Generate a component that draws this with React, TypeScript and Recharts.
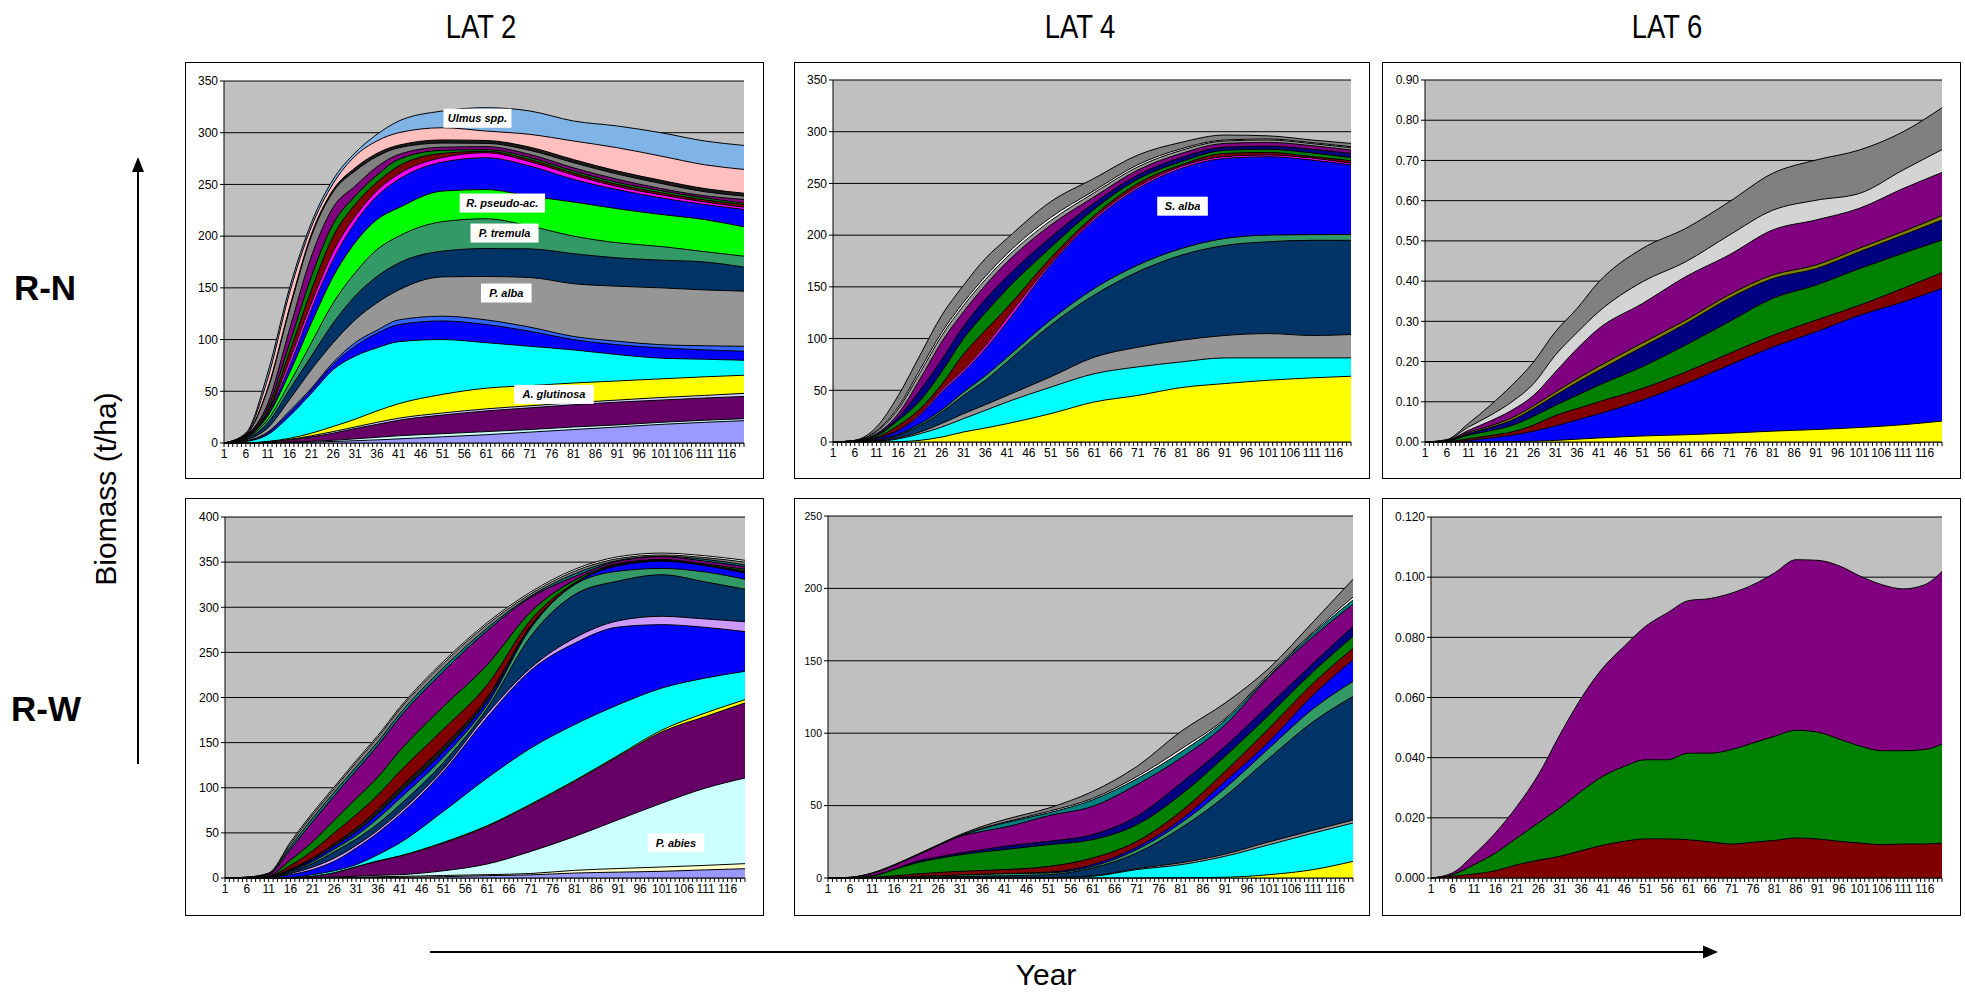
import React from "react";
import { AreaChart, Area, XAxis, YAxis, CartesianGrid, ReferenceDot } from "recharts";

const FONT = '"Liberation Sans", Arial, sans-serif';

// Years
const YEARS_17 = [1, 6, 11, 16, 21, 26, 31, 36, 41, 51, 61, 71, 81, 91, 101, 111, 120];
const YEARS_25 = [1, 6, 11, 16, 21, 26, 31, 36, 41, 46, 51, 56, 61, 66, 71, 76, 81, 86, 91, 96, 101, 106, 111, 116, 120];
const TICK_YEARS = Array.from({ length: 120 }, (_, i) => i + 1);
const X_TICK_LABELS = [1, 6, 11, 16, 21, 26, 31, 36, 41, 46, 51, 56, 61, 66, 71, 76, 81, 86, 91, 96, 101, 106, 111, 116];

// Y ticks
const Y_350 = [0, 50, 100, 150, 200, 250, 300, 350];
const Y_400 = [0, 50, 100, 150, 200, 250, 300, 350, 400];
const Y_250 = [0, 50, 100, 150, 200, 250];
const Y_090 = [0, 0.1, 0.2, 0.3, 0.4, 0.5, 0.6, 0.7, 0.8, 0.9];
const Y_012 = [0, 0.02, 0.04, 0.06, 0.08, 0.1, 0.12];

// R-N, LAT 2 (top edge of each band, t/ha)
const rn2LightBlue = [0, 9.7, 67.7, 150, 213, 255, 280.6, 298.4, 311.3, 321, 324.2, 321, 311.3, 306.5, 300, 292, 287.7];
const rn2Pink = [0, 8.8, 62, 145, 209, 251, 277.4, 292, 300, 304.8, 301.6, 298.4, 292, 285.5, 277.4, 269, 264.5];
const rn2Black = [0, 8.3, 53, 131, 202, 245, 266, 280, 288, 293, 292.5, 286, 274, 263, 254, 246, 241.5];
const rn2Gray = [0, 8, 51.6, 129, 200, 243, 263, 277, 285.5, 290, 289.7, 283, 271, 260, 251, 243, 238.7];
const rn2Purple = [0, 7.5, 38, 110, 180.6, 228, 248.4, 267, 279, 286, 286.5, 279, 266, 255, 246, 239, 235.5];
const rn2Green = [0, 7, 34, 96, 161, 212, 238.7, 259, 274.3, 283, 283.6, 276, 263, 252, 244, 237, 232];
const rn2DarkRed = [0, 6.5, 31, 88, 148, 200, 230.6, 252, 267.8, 280, 282, 274, 261, 250, 242, 235, 230.6];
const rn2Magenta = [0, 6, 29, 80, 135.5, 185, 219, 244, 260, 276, 280.6, 272, 259, 248, 240, 233, 228];
const rn2Blue = [0, 5.5, 27.4, 74, 129, 177.4, 213, 238.7, 254.9, 271.6, 275.8, 267.8, 254.9, 245, 237, 230.6, 225.8];
const rn2Robinia = [0, 5, 25.8, 67.7, 116, 161, 193.6, 216, 227.4, 243.6, 245, 238.7, 233, 226.5, 221, 216, 209];
const rn2Tremula = [0, 4.8, 22.6, 58, 97, 135.5, 164.5, 187, 200, 214, 216.8, 209.7, 200, 193.6, 190, 185, 180.6];
const rn2Navy = [0, 3.9, 19.4, 51.6, 84, 116, 142, 161, 174, 185.5, 188, 187.7, 183, 179, 176.8, 175, 170];
const rn2Alba = [0, 3, 14.5, 42, 71, 97, 119, 135.5, 148, 160.6, 161, 160, 154, 151.6, 150, 148, 146.8];
const rn2Cornflower = [0, 2, 10.5, 31, 53, 78, 97, 109, 119, 122.6, 119, 112, 103, 98.4, 95, 94, 93.5];
const rn2Blue2 = [0, 1.8, 9.7, 29, 51.6, 76, 93.5, 106, 114.5, 118, 114.5, 108, 100, 95, 92, 90, 88.7];
const rn2Cyan = [0, 1.5, 8, 26, 48, 71, 84, 92, 98, 100, 97, 93.5, 90, 85.5, 82, 81, 80];
const rn2Glutinosa = [0, 0, 1.5, 4.5, 9.5, 16, 23, 31, 38, 47, 53, 55.5, 58, 60, 62, 64, 65.5];
const rn2Lilac = [0, 0, 1.2, 3.5, 7, 11, 15.5, 20, 24, 29, 33, 36, 39, 41.5, 44, 46, 48];
const rn2Plum = [0, 0, 1, 3, 6, 9.5, 14, 18, 22, 27, 31, 34, 37, 39.5, 41.5, 43.5, 45];
const rn2PaleCyan = [0, 0, 0.3, 0.8, 1.6, 2.6, 4, 5.5, 7, 9, 11, 13, 15.5, 17.5, 20, 22, 23.5];
const rn2Periwinkle = [0, 0, 0, 0.3, 0.8, 1.5, 2.2, 3, 4, 6, 8, 10.5, 13, 15.5, 18, 20, 21.6];

// R-N, LAT 4
const rn4Gray = [0, 1.6, 14.5, 45, 84, 122.6, 151.6, 177.4, 196.8, 232.3, 254.9, 277.4, 289.7, 296.8, 296, 292, 288.7];
const rn4White = [0, 1.5, 11, 34, 70, 106, 135, 160, 182, 217, 243, 268, 283.5, 292, 293, 289.5, 285.5];
const rn4LightGray = [0, 1.5, 10, 32, 67, 103, 132, 157, 179, 214, 241, 266, 282, 291, 292, 288.5, 284.5];
const rn4Purple = [0, 1.4, 8, 27.4, 61, 97, 126, 151.6, 174, 209.7, 237, 262.9, 279, 288.7, 289.7, 286.5, 282.3];
const rn4Navy2 = [0, 1.2, 7, 24, 50, 80, 112, 138, 160, 198, 231, 258, 275, 285, 286, 283, 279];
const rn4Green = [0, 1, 6, 21, 40, 68, 100, 125, 148, 188, 225, 254, 271, 282, 283, 279.5, 275];
const rn4DarkRed = [0, 0.8, 4.5, 16, 32, 56, 85, 108, 130, 178, 219, 250, 268, 279, 280, 276, 272];
const rn4Magenta = [0, 0.6, 3.6, 12, 27.5, 50.5, 70, 93, 120, 173, 216.5, 247, 266.5, 276, 277.5, 274.5, 269.5];
const rn4Salix = [0, 0.5, 3.2, 11, 25.8, 48.4, 67.7, 90, 116, 171, 214.5, 245, 264.5, 274.2, 275.8, 272.6, 267.8];
const rn4SeaGreen = [0, 0.3, 2, 7.5, 17.7, 31, 48.4, 64, 82, 118, 148.4, 171, 187, 196.8, 200, 200.5, 200.6];
const rn4Navy = [0, 0.2, 1.6, 6.5, 16, 29, 45, 59.7, 77.4, 113, 142, 164.5, 180.6, 190, 193.6, 195, 195];
const rn4MidGray = [0, 0, 0.8, 3.9, 9.7, 18, 27.4, 36, 45, 63, 82, 91.6, 98.4, 103, 104.8, 103, 103.9];
const rn4Cyan = [0, 0, 0.5, 3, 8, 14.5, 22.6, 30.6, 38.7, 53, 66, 72.6, 77.4, 81.3, 81.3, 81.3, 81.3];
const rn4Yellow = [0, 0, 0, 0.3, 1.6, 4.8, 9.7, 13.5, 17.7, 27.4, 38.7, 45, 52.6, 56.5, 59.7, 62, 63.6];

// R-N, LAT 6
const rn6Gray = [0, 0.006, 0.046, 0.091, 0.141, 0.199, 0.274, 0.332, 0.398, 0.481, 0.531, 0.597, 0.668, 0.701, 0.726, 0.771, 0.831];
const rn6Light = [0, 0.005, 0.037, 0.066, 0.1, 0.145, 0.216, 0.272, 0.324, 0.398, 0.448, 0.514, 0.576, 0.601, 0.618, 0.676, 0.727];
const rn6Purple = [0, 0.004, 0.029, 0.052, 0.079, 0.116, 0.174, 0.232, 0.282, 0.344, 0.411, 0.465, 0.527, 0.552, 0.581, 0.63, 0.67];
const rn6Olive = [0, 0.003, 0.024, 0.04, 0.06, 0.09, 0.124, 0.157, 0.188, 0.246, 0.303, 0.366, 0.415, 0.44, 0.482, 0.523, 0.563];
const rn6Navy = [0, 0.003, 0.021, 0.036, 0.054, 0.083, 0.116, 0.148, 0.178, 0.236, 0.294, 0.357, 0.406, 0.431, 0.473, 0.514, 0.552];
const rn6Green = [0, 0.002, 0.017, 0.028, 0.041, 0.064, 0.091, 0.116, 0.141, 0.187, 0.241, 0.299, 0.357, 0.39, 0.431, 0.469, 0.502];
const rn6DarkRed = [0, 0.001, 0.008, 0.016, 0.025, 0.042, 0.066, 0.083, 0.1, 0.133, 0.174, 0.22, 0.265, 0.303, 0.34, 0.382, 0.421];
const rn6Blue = [0, 0, 0.004, 0.01, 0.017, 0.027, 0.04, 0.055, 0.07, 0.104, 0.145, 0.191, 0.236, 0.274, 0.315, 0.348, 0.382];
const rn6Yellow = [0, 0, 0, 0, 0.001, 0.002, 0.004, 0.007, 0.01, 0.015, 0.018, 0.022, 0.027, 0.031, 0.036, 0.043, 0.052];

// R-W, LAT 2
const rw2White = [0, 1, 5.5, 40, 72, 101, 130, 158, 189, 240, 283, 317, 342, 356, 360, 357, 352];
const rw2Gray = [0, 0.9, 5, 38, 70, 99, 128, 156, 187, 238, 281, 315, 340, 354, 358, 355, 350];
const rw2Teal = [0, 0.8, 4.5, 35, 66, 95, 123, 151, 182, 233, 277, 312.5, 337, 352, 356.5, 353, 347];
const rw2Purple = [0, 0.7, 4, 32, 62, 91, 119, 147, 178, 229, 274, 311, 334, 351, 356, 351, 345];
const rw2Green = [0, 0.5, 2.5, 20, 40, 64, 88, 112, 141, 190, 236, 295, 330, 348.5, 353, 348, 342];
const rw2DarkRed = [0, 0.4, 2, 14, 30, 50, 70, 92, 118, 165, 214, 286, 327, 347.5, 352, 347, 340];
const rw2Black = [0, 0.3, 1.5, 10, 22, 38, 55, 76, 100, 146, 200, 280, 326, 347, 351.5, 346.5, 339];
const rw2BlueThin = [0, 0.3, 1.4, 9, 20, 35, 51, 71, 94, 140, 196, 278.5, 325.5, 346, 351, 346, 338];
const rw2SeaGreen = [0, 0.2, 1.2, 8, 18, 32, 47, 66, 88, 134, 192, 277, 325, 340, 343, 339, 331];
const rw2Navy = [0, 0.2, 1, 7, 16, 29, 43, 60, 81, 128, 188, 268, 314, 329, 336, 328, 320];
const rw2Lavender = [0, 0.1, 0.8, 5, 12, 22, 36, 53, 73, 121, 182, 233, 266, 285, 290, 287, 284];
const rw2Blue = [0, 0.1, 0.7, 3.7, 9.2, 18.5, 33, 50, 70, 118, 178, 230, 260, 278, 280.7, 277.7, 273];
const rw2Cyan = [0, 0, 0, 0.5, 3.7, 8, 14.8, 25.9, 38.8, 73.9, 110.8, 144, 170, 192, 210.5, 221.6, 229];
const rw2Yellow = [0, 0, 0, 0.3, 2, 5.8, 12.5, 19, 24.5, 39.5, 58, 82, 108, 136, 164, 183, 197.6];
const rw2Plum = [0, 0, 0, 0.2, 1.8, 5.5, 12.2, 18.5, 24, 38.8, 57.2, 81, 107, 134.8, 162, 179, 194];
const rw2Abies = [0, 0, 0, 0, 0.5, 1, 2, 3, 3.7, 8, 15.5, 29.5, 46, 64.6, 83, 99.7, 110.8];
const rw2PaleYellow = [0, 0, 0, 0, 0.3, 0.6, 1, 1.4, 1.8, 2.8, 3.7, 5, 8.5, 10.5, 12.2, 14, 15.9];
const rw2Periwinkle = [0, 0, 0, 0, 0.2, 0.4, 0.5, 0.6, 0.7, 1.5, 2.6, 3.5, 5.5, 6.5, 7.4, 9, 10.3];

// R-W, LAT 4
const rw4Gray = [0, 0.5, 3.5, 9.2, 16, 23, 30, 35.7, 40.3, 48.3, 59.8, 77, 101.2, 120.8, 145, 177, 206.3];
const rw4White = [0, 0.45, 3.3, 8.9, 15.8, 22.8, 29.5, 34.5, 38.5, 46, 55, 70, 89, 110, 141, 170, 194];
const rw4Teal = [0, 0.42, 3.2, 8.8, 15.6, 22.6, 29.2, 34, 38, 45, 54, 68.5, 87, 109, 140, 169, 192];
const rw4Purple = [0, 0.4, 3.1, 8.6, 15.3, 22.3, 28.8, 32.2, 35, 43, 49.5, 64.4, 82.8, 105.8, 139, 166.8, 189];
const rw4Navy2 = [0, 0.3, 1.6, 6, 11.5, 14.5, 17.3, 19.5, 21.9, 25.3, 30, 42.6, 65.6, 90.9, 119.6, 148.4, 173.7];
const rw4Green = [0, 0.2, 1.2, 5.8, 10.4, 13.5, 16, 18, 19.6, 23, 26.5, 36.8, 57.5, 84, 112.7, 142.6, 166.8];
const rw4DarkRed = [0, 0.1, 0.5, 1.5, 2.8, 3.8, 4.6, 5.2, 5.8, 8, 13.8, 25.3, 46, 73.6, 103.5, 134.6, 158.7];
const rw4Blue = [0, 0, 0.2, 0.5, 1, 1.5, 2, 2.5, 3, 4, 9.2, 21.2, 40.3, 66.7, 94.3, 126.5, 150.7];
const rw4SeaGreen = [0, 0, 0.2, 0.5, 1, 1.5, 2, 2.5, 3, 3.5, 8, 19.6, 38, 62, 89.7, 117, 135.7];
const rw4Navy = [0, 0, 0, 0.2, 0.5, 0.8, 1, 1.3, 1.5, 2.3, 6.9, 17.3, 34.5, 56.4, 82.8, 108, 125.4];
const rw4MidGray = [0, 0, 0, 0, 0, 0, 0, 0, 0, 0.3, 1.5, 6.5, 10.5, 16.5, 25, 33, 40];
const rw4Cyan = [0, 0, 0, 0, 0, 0, 0, 0, 0, 0.2, 1.2, 5.8, 9.2, 15, 23, 31, 38];
const rw4Yellow = [0, 0, 0, 0, 0, 0, 0, 0, 0, 0, 0, 0, 0.2, 0.5, 2.3, 5.8, 11.5];

// R-W, LAT 6 (every 5 years)
const rw6Purple = [0, 0.0017, 0.0078, 0.015, 0.0238, 0.0343, 0.0476, 0.0598, 0.0698, 0.077, 0.0837, 0.0881, 0.0922, 0.0929, 0.0947, 0.0975, 0.1014, 0.1058, 0.1056, 0.1038, 0.1003, 0.0975, 0.0961, 0.0975, 0.1019];
const rw6Green = [0, 0.0011, 0.0044, 0.0083, 0.0133, 0.0183, 0.0233, 0.0288, 0.0338, 0.0371, 0.0393, 0.0393, 0.0415, 0.0415, 0.0427, 0.0449, 0.0471, 0.0491, 0.0485, 0.0462, 0.0438, 0.0423, 0.0423, 0.0427, 0.0445];
const rw6DarkRed = [0, 0.0006, 0.0013, 0.0024, 0.0044, 0.0059, 0.0072, 0.0091, 0.0109, 0.0122, 0.013, 0.013, 0.0127, 0.012, 0.0113, 0.0119, 0.0125, 0.0133, 0.013, 0.0122, 0.0116, 0.0111, 0.0113, 0.0113, 0.0116];

type Band = { key: string; color: string; values: number[] };
type Tag = { text: string; year: number; value: number };

// bands listed from the outermost (drawn first) to the innermost
const RN2_BANDS: Band[] = [
  { key: "lightBlue", color: "#80B3E6", values: rn2LightBlue },
  { key: "pink", color: "#FFBFBF", values: rn2Pink },
  { key: "black", color: "#1A1A1A", values: rn2Black },
  { key: "gray", color: "#808080", values: rn2Gray },
  { key: "purple", color: "#800080", values: rn2Purple },
  { key: "green", color: "#008000", values: rn2Green },
  { key: "darkRed", color: "#800000", values: rn2DarkRed },
  { key: "magenta", color: "#FF00FF", values: rn2Magenta },
  { key: "blue", color: "#0000FF", values: rn2Blue },
  { key: "robinia", color: "#00FF00", values: rn2Robinia },
  { key: "tremula", color: "#339966", values: rn2Tremula },
  { key: "navy", color: "#003366", values: rn2Navy },
  { key: "alba", color: "#969696", values: rn2Alba },
  { key: "cornflower", color: "#3366FF", values: rn2Cornflower },
  { key: "blue2", color: "#0000FF", values: rn2Blue2 },
  { key: "cyan", color: "#00FFFF", values: rn2Cyan },
  { key: "glutinosa", color: "#FFFF00", values: rn2Glutinosa },
  { key: "lilac", color: "#CCCCFF", values: rn2Lilac },
  { key: "plum", color: "#660066", values: rn2Plum },
  { key: "paleCyan", color: "#CCFFFF", values: rn2PaleCyan },
  { key: "periwinkle", color: "#9999FF", values: rn2Periwinkle },
];

const RN4_BANDS: Band[] = [
  { key: "gray", color: "#808080", values: rn4Gray },
  { key: "white", color: "#FFFFFF", values: rn4White },
  { key: "lightGray", color: "#969696", values: rn4LightGray },
  { key: "purple", color: "#800080", values: rn4Purple },
  { key: "navy2", color: "#000080", values: rn4Navy2 },
  { key: "green", color: "#008000", values: rn4Green },
  { key: "darkRed", color: "#800000", values: rn4DarkRed },
  { key: "magenta", color: "#FF00FF", values: rn4Magenta },
  { key: "salix", color: "#0000FF", values: rn4Salix },
  { key: "seaGreen", color: "#339966", values: rn4SeaGreen },
  { key: "navy", color: "#003366", values: rn4Navy },
  { key: "midGray", color: "#969696", values: rn4MidGray },
  { key: "cyan", color: "#00FFFF", values: rn4Cyan },
  { key: "yellow", color: "#FFFF00", values: rn4Yellow },
];

const RN6_BANDS: Band[] = [
  { key: "gray", color: "#808080", values: rn6Gray },
  { key: "light", color: "#D4D4D4", values: rn6Light },
  { key: "purple", color: "#800080", values: rn6Purple },
  { key: "olive", color: "#808000", values: rn6Olive },
  { key: "navy", color: "#000080", values: rn6Navy },
  { key: "green", color: "#008000", values: rn6Green },
  { key: "darkRed", color: "#800000", values: rn6DarkRed },
  { key: "blue", color: "#0000FF", values: rn6Blue },
  { key: "yellow", color: "#FFFF00", values: rn6Yellow },
];

const RW2_BANDS: Band[] = [
  { key: "white", color: "#FFFFFF", values: rw2White },
  { key: "gray", color: "#808080", values: rw2Gray },
  { key: "teal", color: "#008080", values: rw2Teal },
  { key: "purple", color: "#800080", values: rw2Purple },
  { key: "green", color: "#008000", values: rw2Green },
  { key: "darkRed", color: "#800000", values: rw2DarkRed },
  { key: "black", color: "#1A1A1A", values: rw2Black },
  { key: "blueThin", color: "#0000FF", values: rw2BlueThin },
  { key: "seaGreen", color: "#339966", values: rw2SeaGreen },
  { key: "navy", color: "#003366", values: rw2Navy },
  { key: "lavender", color: "#CC99FF", values: rw2Lavender },
  { key: "blue", color: "#0000FF", values: rw2Blue },
  { key: "cyan", color: "#00FFFF", values: rw2Cyan },
  { key: "yellow", color: "#FFFF00", values: rw2Yellow },
  { key: "plum", color: "#660066", values: rw2Plum },
  { key: "abies", color: "#CCFFFF", values: rw2Abies },
  { key: "paleYellow", color: "#FFFFCC", values: rw2PaleYellow },
  { key: "periwinkle", color: "#9999FF", values: rw2Periwinkle },
];

const RW4_BANDS: Band[] = [
  { key: "gray", color: "#808080", values: rw4Gray },
  { key: "white", color: "#FFFFFF", values: rw4White },
  { key: "teal", color: "#008080", values: rw4Teal },
  { key: "purple", color: "#800080", values: rw4Purple },
  { key: "navy2", color: "#000080", values: rw4Navy2 },
  { key: "green", color: "#008000", values: rw4Green },
  { key: "darkRed", color: "#800000", values: rw4DarkRed },
  { key: "blue", color: "#0000FF", values: rw4Blue },
  { key: "seaGreen", color: "#339966", values: rw4SeaGreen },
  { key: "navy", color: "#003366", values: rw4Navy },
  { key: "midGray", color: "#969696", values: rw4MidGray },
  { key: "cyan", color: "#00FFFF", values: rw4Cyan },
  { key: "yellow", color: "#FFFF00", values: rw4Yellow },
];

const RW6_BANDS: Band[] = [
  { key: "purple", color: "#800080", values: rw6Purple },
  { key: "green", color: "#008000", values: rw6Green },
  { key: "darkRed", color: "#800000", values: rw6DarkRed },
];

const RN2_TAGS: Tag[] = [
  { text: "Ulmus spp.", year: 59, value: 314 },
  { text: "R. pseudo-ac.", year: 64.7, value: 232 },
  { text: "P. tremula", year: 65.2, value: 203 },
  { text: "P. alba", year: 65.6, value: 145 },
  { text: "A. glutinosa", year: 76.5, value: 47 },
];
const RN4_TAGS: Tag[] = [{ text: "S. alba", year: 81.3, value: 228 }];
const RW2_TAGS: Tag[] = [{ text: "P. abies", year: 104.2, value: 39 }];

function TagBox({ cx, cy, text }: { cx: number; cy: number; text: string }) {
  const w = text.length * 5.8 + 10;
  const h = 19;
  return (
    <g>
      <rect x={cx - w / 2} y={cy - h / 2} width={w} height={h} fill="#fff" />
      <text x={cx} y={cy + 4} textAnchor="middle" fontFamily={FONT} fontSize={11} fontWeight="bold" fontStyle="italic" fill="#000">
        {text}
      </text>
    </g>
  );
}

type PanelProps = {
  x: number; y: number; w: number; h: number;
  padL: number; padT: number; padR: number; padB: number;
  years: number[]; bands: Band[]; yTicks: number[]; digits: number;
  yFont?: number; tags?: Tag[];
};

function Panel({ x, y, w, h, padL, padT, padR, padB, years, bands, yTicks, digits, yFont = 12, tags = [] }: PanelProps) {
  const rows = years.map((yr, i) => {
    const r: Record<string, number> = { year: yr };
    bands.forEach((b) => {
      r[b.key] = b.values[i];
    });
    return r;
  });
  return (
    <div style={{ position: "absolute", left: x, top: y, width: w, height: h, border: "1px solid #000", boxSizing: "border-box", background: "#fff" }}>
      <AreaChart width={w - 2} height={h - 2} data={rows} margin={{ top: padT, right: padR, bottom: 0, left: 0 }}>
        <CartesianGrid vertical={false} stroke="#000" fill="#C0C0C0" fillOpacity={1} />
        <XAxis
          dataKey="year"
          type="number"
          domain={[1, 120]}
          ticks={TICK_YEARS}
          interval={0}
          height={padB}
          tickSize={4}
          tickMargin={2}
          tick={{ fill: "#000", fontSize: 12, fontFamily: FONT }}
          axisLine={{ stroke: "#000" }}
          tickLine={{ stroke: "#000" }}
          tickFormatter={(v: number) => (X_TICK_LABELS.includes(v) ? String(v) : "")}
        />
        <YAxis
          type="number"
          domain={[0, yTicks[yTicks.length - 1]]}
          ticks={yTicks}
          interval={0}
          width={padL}
          tickSize={4}
          tickMargin={2}
          tick={{ fill: "#000", fontSize: yFont, fontFamily: FONT }}
          axisLine={{ stroke: "#000" }}
          tickLine={{ stroke: "#000" }}
          tickFormatter={(v: number) => v.toFixed(digits)}
        />
        {bands.map((b) => (
          <Area
            key={b.key}
            dataKey={b.key}
            type="monotone"
            stroke="#000"
            strokeWidth={1}
            fill={b.color}
            fillOpacity={1}
            dot={false}
            activeDot={false}
            isAnimationActive={false}
          />
        ))}
        {tags.map((t) => (
          <ReferenceDot
            key={t.text}
            x={t.year}
            y={t.value}
            r={0}
            ifOverflow="visible"
            shape={(p: any) => <TagBox cx={p.cx} cy={p.cy} text={t.text} />}
          />
        ))}
      </AreaChart>
    </div>
  );
}

export default function App() {
  return (
    <div style={{ position: "absolute", left: 0, top: 0, width: 1965, height: 995, background: "#fff", fontFamily: FONT, overflow: "hidden" }}>
      <svg width={1965} height={995} style={{ position: "absolute", left: 0, top: 0 }}>
        <g fontFamily={FONT} fill="#000">
          <text transform="translate(481,38) scale(0.83,1)" textAnchor="middle" fontSize={33}>LAT 2</text>
          <text transform="translate(1080,38) scale(0.83,1)" textAnchor="middle" fontSize={33}>LAT 4</text>
          <text transform="translate(1667,38) scale(0.83,1)" textAnchor="middle" fontSize={33}>LAT 6</text>
          <text x={45} y={300} textAnchor="middle" fontSize={35} fontWeight="bold">R-N</text>
          <text x={46} y={721} textAnchor="middle" fontSize={35} fontWeight="bold">R-W</text>
          <text transform="translate(116,489) rotate(-90)" textAnchor="middle" fontSize={30}>Biomass (t/ha)</text>
          <text x={1046} y={985} textAnchor="middle" fontSize={30}>Year</text>
        </g>
        <line x1={138} y1={764} x2={138} y2={168} stroke="#000" strokeWidth={2} />
        <polygon points="138,157 132,172 144,172" fill="#000" />
        <line x1={430} y1={952} x2={1706} y2={952} stroke="#000" strokeWidth={2} />
        <polygon points="1718,952 1703,945.5 1703,958.5" fill="#000" />
      </svg>
      <Panel x={185} y={62} w={579} h={417} padL={38} padT={18} padR={19} padB={35} years={YEARS_17} bands={RN2_BANDS} yTicks={Y_350} digits={0} tags={RN2_TAGS} />
      <Panel x={794} y={62} w={576} h={417} padL={38} padT={17} padR={18} padB={36} years={YEARS_17} bands={RN4_BANDS} yTicks={Y_350} digits={0} tags={RN4_TAGS} />
      <Panel x={1382} y={62} w={579} h={417} padL={42} padT={17} padR={18} padB={36} years={YEARS_17} bands={RN6_BANDS} yTicks={Y_090} digits={2} />
      <Panel x={185} y={498} w={579} h={418} padL={39} padT={18} padR={18} padB={37} years={YEARS_17} bands={RW2_BANDS} yTicks={Y_400} digits={0} tags={RW2_TAGS} />
      <Panel x={794} y={498} w={576} h={418} padL={33} padT={17} padR={16} padB={37} years={YEARS_17} bands={RW4_BANDS} yTicks={Y_250} digits={0} yFont={10.5} />
      <Panel x={1382} y={498} w={579} h={418} padL={48} padT={18} padR={18} padB={37} years={YEARS_25} bands={RW6_BANDS} yTicks={Y_012} digits={3} />
    </div>
  );
}
